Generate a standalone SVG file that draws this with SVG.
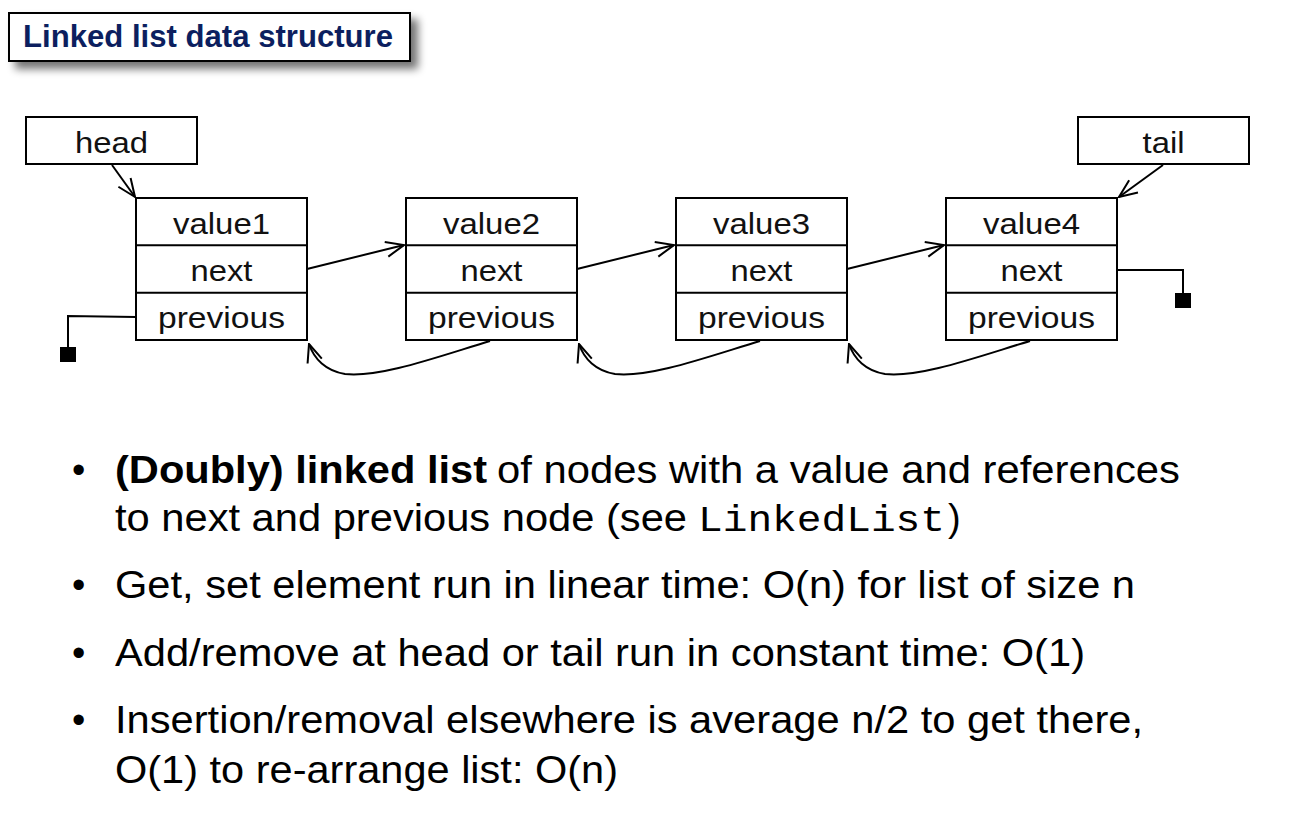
<svg xmlns="http://www.w3.org/2000/svg" width="1294" height="820" viewBox="0 0 1294 820">
  <style>
    .box { fill: #ffffff; stroke: #000000; stroke-width: 2; }
    .div { stroke: #000000; stroke-width: 2; }
    .lbl { font-family: "Liberation Sans", Arial, Helvetica, sans-serif; font-size: 30px; fill: #111111; text-anchor: middle; }
    .wire { fill: none; stroke: #000000; stroke-width: 2; }
    .nil { fill: #000000; }
    .body { font-family: "Liberation Sans", Arial, Helvetica, sans-serif; font-size: 38px; fill: #000000; }
    .bold { font-weight: bold; }
    .mono { font-family: "Liberation Mono", "Courier New", monospace; font-size: 37px; fill: #000000; }
    .title { font-family: "Liberation Sans", Arial, Helvetica, sans-serif; font-size: 31px; font-weight: bold; fill: #0c1f5f; }
  </style>
  <defs>
    <marker id="open" viewBox="0 0 20 18" refX="19" refY="9" markerWidth="20" markerHeight="18" markerUnits="userSpaceOnUse" orient="auto">
      <path d="M1,1.5 L19,9 L1,16.5" fill="none" stroke="#000000" stroke-width="2"/>
    </marker>
    <filter id="shadow" x="-10%" y="-40%" width="130%" height="200%">
      <feGaussianBlur in="SourceAlpha" stdDeviation="4"/>
      <feOffset dx="7" dy="7" result="b"/>
      <feComponentTransfer><feFuncA type="linear" slope="0.55"/></feComponentTransfer>
      <feMerge><feMergeNode/><feMergeNode in="SourceGraphic"/></feMerge>
    </filter>
  </defs>
  <rect width="1294" height="820" fill="#ffffff"/>

  <!-- title banner -->
  <g id="title">
    <rect x="9" y="13" width="401" height="48" fill="#ffffff" stroke="#000000" stroke-width="2" filter="url(#shadow)"/>
    <text class="title" x="23" y="47" textLength="370" lengthAdjust="spacingAndGlyphs">Linked list data structure</text>
  </g>

  <!-- pointer boxes -->
  <g id="head">
    <rect class="box" x="26" y="117" width="171" height="47"/>
    <text class="lbl" x="111.5" y="153" textLength="73" lengthAdjust="spacingAndGlyphs">head</text>
  </g>
  <g id="tail">
    <rect class="box" x="1078" y="117" width="171" height="47"/>
    <text class="lbl" x="1163.5" y="153" textLength="42" lengthAdjust="spacingAndGlyphs">tail</text>
  </g>

  <!-- list nodes: value / next / previous -->
  <g id="node1">
    <rect class="box" x="136" y="198" width="171" height="142"/>
    <line class="div" x1="136" y1="245.3" x2="307" y2="245.3"/>
    <line class="div" x1="136" y1="292.7" x2="307" y2="292.7"/>
    <text class="lbl" x="221.5" y="234" textLength="97" lengthAdjust="spacingAndGlyphs">value1</text>
    <text class="lbl" x="221.5" y="281" textLength="62" lengthAdjust="spacingAndGlyphs">next</text>
    <text class="lbl" x="221.5" y="328" textLength="127" lengthAdjust="spacingAndGlyphs">previous</text>
  </g>
  <g id="node2">
    <rect class="box" x="406" y="198" width="171" height="142"/>
    <line class="div" x1="406" y1="245.3" x2="577" y2="245.3"/>
    <line class="div" x1="406" y1="292.7" x2="577" y2="292.7"/>
    <text class="lbl" x="491.5" y="234" textLength="97" lengthAdjust="spacingAndGlyphs">value2</text>
    <text class="lbl" x="491.5" y="281" textLength="62" lengthAdjust="spacingAndGlyphs">next</text>
    <text class="lbl" x="491.5" y="328" textLength="127" lengthAdjust="spacingAndGlyphs">previous</text>
  </g>
  <g id="node3">
    <rect class="box" x="676" y="198" width="171" height="142"/>
    <line class="div" x1="676" y1="245.3" x2="847" y2="245.3"/>
    <line class="div" x1="676" y1="292.7" x2="847" y2="292.7"/>
    <text class="lbl" x="761.5" y="234" textLength="97" lengthAdjust="spacingAndGlyphs">value3</text>
    <text class="lbl" x="761.5" y="281" textLength="62" lengthAdjust="spacingAndGlyphs">next</text>
    <text class="lbl" x="761.5" y="328" textLength="127" lengthAdjust="spacingAndGlyphs">previous</text>
  </g>
  <g id="node4">
    <rect class="box" x="946" y="198" width="171" height="142"/>
    <line class="div" x1="946" y1="245.3" x2="1117" y2="245.3"/>
    <line class="div" x1="946" y1="292.7" x2="1117" y2="292.7"/>
    <text class="lbl" x="1031.5" y="234" textLength="97" lengthAdjust="spacingAndGlyphs">value4</text>
    <text class="lbl" x="1031.5" y="281" textLength="62" lengthAdjust="spacingAndGlyphs">next</text>
    <text class="lbl" x="1031.5" y="328" textLength="127" lengthAdjust="spacingAndGlyphs">previous</text>
  </g>

  <!-- references between boxes -->
  <g id="connectors">
    <line class="wire" x1="112" y1="165" x2="135" y2="197" marker-end="url(#open)"/>
    <line class="wire" x1="1163" y1="165" x2="1119" y2="197" marker-end="url(#open)"/>

    <line class="wire" x1="307" y1="269" x2="404" y2="245" marker-end="url(#open)"/>
    <line class="wire" x1="577" y1="269" x2="674" y2="245" marker-end="url(#open)"/>
    <line class="wire" x1="847" y1="269" x2="944" y2="245" marker-end="url(#open)"/>

    <path class="wire" d="M490,341 C440,356 380,378 345,374 C326,371 314,359 309,344" marker-end="url(#open)"/>
    <path class="wire" d="M760,341 C710,356 650,378 615,374 C596,371 584,359 579,344" marker-end="url(#open)"/>
    <path class="wire" d="M1030,341 C980,356 920,378 885,374 C866,371 854,359 849,344" marker-end="url(#open)"/>

    <polyline class="wire" points="1117,270 1183,270 1183,294"/>
    <rect class="nil" x="1175" y="293" width="16" height="15"/>
    <polyline class="wire" points="136,317 68,316 68,348"/>
    <rect class="nil" x="60" y="347" width="16" height="15"/>
  </g>

  <!-- bullet points -->
  <g id="notes">
    <text class="body" x="72" y="483">•</text>
    <text class="body bold" x="115" y="483" textLength="372" lengthAdjust="spacingAndGlyphs">(Doubly) linked list</text>
    <text class="body" x="497" y="483" textLength="683" lengthAdjust="spacingAndGlyphs">of nodes with a value and references</text>
    <text class="body" x="115" y="531" textLength="572" lengthAdjust="spacingAndGlyphs">to next and previous node (see</text>
    <text class="mono" x="698" y="531" textLength="247" lengthAdjust="spacingAndGlyphs">LinkedList</text>
    <text class="body" x="948" y="531">)</text>

    <text class="body" x="72" y="598">•</text>
    <text class="body" x="115" y="598" textLength="1020" lengthAdjust="spacingAndGlyphs">Get, set element run in linear time: O(n) for list of size n</text>

    <text class="body" x="72" y="666">•</text>
    <text class="body" x="115" y="666" textLength="970" lengthAdjust="spacingAndGlyphs">Add/remove at head or tail run in constant time: O(1)</text>

    <text class="body" x="72" y="733">•</text>
    <text class="body" x="115" y="733" textLength="1028" lengthAdjust="spacingAndGlyphs">Insertion/removal elsewhere is average n/2 to get there,</text>
    <text class="body" x="115" y="783" textLength="503" lengthAdjust="spacingAndGlyphs">O(1) to re-arrange list: O(n)</text>
  </g>
</svg>
